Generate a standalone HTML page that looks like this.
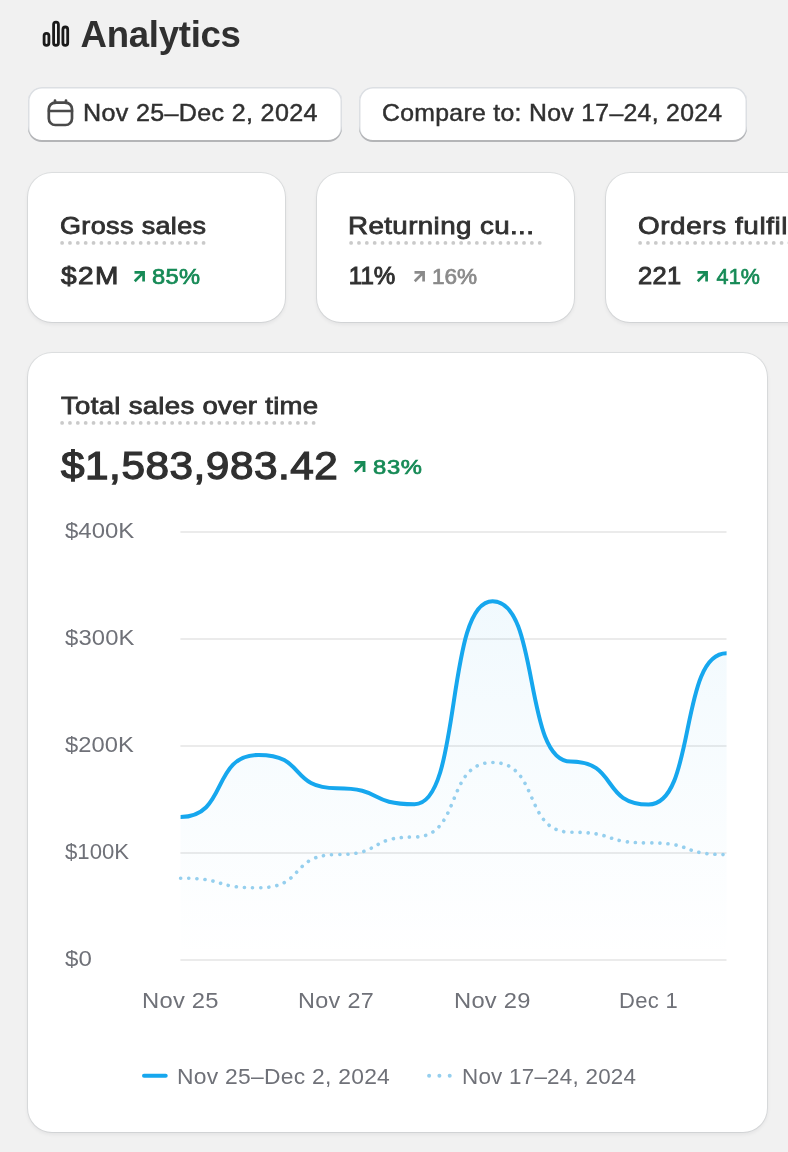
<!DOCTYPE html>
<html lang="en"><head><meta charset="utf-8"><title>Analytics</title><style>
html,body{margin:0;padding:0}
body{width:788px;height:1152px;background:#f1f1f1;overflow:hidden;position:relative;font-family:"Liberation Sans",sans-serif}
.abs{position:absolute;display:block;overflow:visible}
.grp{position:absolute;left:0;top:0;margin:0;padding:0}
.t{position:absolute;margin:0;padding:0;font-weight:normal;white-space:nowrap;line-height:1em;transform-origin:0 50%}
.btn{position:absolute;display:block;margin:0;padding:0;border:0;font:inherit;text-align:left;background:#fff;border-radius:14px;box-sizing:border-box;box-shadow:inset 0 -2px 0 #b4b5b7,inset 0 0 0 1.5px #dcdfe3}
.card{position:absolute;margin:0;padding:0;background:#fff;border-radius:24px;box-shadow:0 0 0 1px rgba(30,50,70,.09),0 2px 4px rgba(20,30,40,.08)}
</style></head>
<body>
<header class="grp">
<svg class="abs" style="left:40px;top:18px" width="32" height="32" viewBox="0 0 32 32" fill="none" stroke="#1a1a1a" stroke-width="2.8"><rect x="4.1" y="15.4" width="4.8" height="12" rx="2.4"/><rect x="13.6" y="4.2" width="4.8" height="23.2" rx="2.4"/><rect x="22.9" y="9" width="4.8" height="18.4" rx="2.4"/></svg>
<h1 class="t" id="h1" style="left:80.54px;top:16.80px;font-size:36.6px;font-weight:bold;color:#303030;letter-spacing:-0.280px;">Analytics</h1>
</header>
<nav class="grp">
<button type="button" class="btn" style="left:28.0px;top:86.5px;width:314.3px;height:55px">
<svg class="abs" style="left:18.0px;top:11.5px" width="30" height="30" viewBox="0 0 30 30" fill="none" stroke="#4a4a4a" stroke-width="2.7" stroke-linecap="round"><rect x="2.8" y="4.6" width="23.2" height="22.4" rx="6.5"/><path d="M3 13H26"/><path d="M9 2.6V5M20 2.6V5"/></svg>
<span class="t" id="b1" style="left:55.00px;top:15.30px;font-size:23.2px;color:#303030;letter-spacing:0.309px;transform:scaleX(1.0821);-webkit-text-stroke:0.45px #303030;">Nov 25–Dec 2, 2024</span>
</button>
<button type="button" class="btn" style="left:359.0px;top:86.5px;width:388.3px;height:55px">
<span class="t" id="b2" style="left:22.87px;top:15.30px;font-size:23.2px;color:#303030;letter-spacing:0.300px;transform:scaleX(1.0680);-webkit-text-stroke:0.45px #303030;">Compare to: Nov 17–24, 2024</span>
</button>
</nav>
<section class="grp">
<article class="card" style="left:27.6px;top:173.4px;width:257.5px;height:148.6px">
<h2 class="t" id="c1t" style="left:32.40px;top:40.70px;font-size:24px;color:#303030;letter-spacing:0.326px;transform:scaleX(1.1240);-webkit-text-stroke:0.8px #303030;">Gross sales</h2>
<svg class="abs" style="left:31.00px;top:66.60px" width="150.0" height="6" viewBox="0 0 150.0 6"><line x1="3.1" x2="148.6" y1="2.9" y2="2.9" stroke="#cacaca" stroke-width="3.8" stroke-linecap="round" stroke-dasharray="0.01 7.85"/></svg>
<p class="t" id="c1v" style="left:33.40px;top:90.70px;font-size:24.2px;color:#303030;letter-spacing:1.190px;transform:scaleX(1.1600);-webkit-text-stroke:0.9px #303030;">$2M</p>
<svg class="abs" style="left:106.00px;top:97.40px" width="11" height="11" viewBox="0 0 11 11"><path d="M0.5 1.35H9.6V10.5M9.3 1.65L0.75 10.2" fill="none" stroke="#168a56" stroke-width="2.7" stroke-linejoin="miter" stroke-linecap="butt"/></svg>
<span class="t" id="c1p" style="left:124.90px;top:93.75px;font-size:21.5px;color:#168a56;letter-spacing:0.273px;transform:scaleX(1.1016);-webkit-text-stroke:0.7px #168a56;">85%</span>
</article>
<article class="card" style="left:316.5px;top:173.4px;width:257.5px;height:148.6px">
<h2 class="t" id="c2t" style="left:31.50px;top:40.70px;font-size:24px;color:#303030;letter-spacing:0.346px;transform:scaleX(1.1550);-webkit-text-stroke:0.8px #303030;">Returning cu...</h2>
<svg class="abs" style="left:31.00px;top:66.60px" width="196.0" height="6" viewBox="0 0 196.0 6"><line x1="3.1" x2="194.6" y1="2.9" y2="2.9" stroke="#cacaca" stroke-width="3.8" stroke-linecap="round" stroke-dasharray="0.01 7.85"/></svg>
<p class="t" id="c2v" style="left:32.37px;top:90.70px;font-size:24.2px;color:#303030;letter-spacing:-0.123px;-webkit-text-stroke:0.9px #303030;">11%</p>
<svg class="abs" style="left:97.10px;top:97.40px" width="11" height="11" viewBox="0 0 11 11"><path d="M0.5 1.35H9.6V10.5M9.3 1.65L0.75 10.2" fill="none" stroke="#8a8a8a" stroke-width="2.7" stroke-linejoin="miter" stroke-linecap="butt"/></svg>
<span class="t" id="c2p" style="left:115.12px;top:93.75px;font-size:21.5px;color:#8a8a8a;letter-spacing:-0.075px;transform:scaleX(1.0508);-webkit-text-stroke:0.7px #8a8a8a;">16%</span>
</article>
<article class="card" style="left:605.5px;top:173.4px;width:257.5px;height:148.6px">
<h2 class="t" id="c3t" style="left:32.00px;top:40.70px;font-size:24px;color:#303030;letter-spacing:0.515px;transform:scaleX(1.1600);-webkit-text-stroke:0.8px #303030;">Orders fulfilled</h2>
<svg class="abs" style="left:31.00px;top:66.60px" width="196.0" height="6" viewBox="0 0 196.0 6"><line x1="3.1" x2="194.6" y1="2.9" y2="2.9" stroke="#cacaca" stroke-width="3.8" stroke-linecap="round" stroke-dasharray="0.01 7.85"/></svg>
<p class="t" id="c3v" style="left:32.50px;top:90.70px;font-size:24.2px;color:#303030;letter-spacing:0.300px;transform:scaleX(1.0551);-webkit-text-stroke:0.9px #303030;">221</p>
<svg class="abs" style="left:91.90px;top:97.40px" width="11" height="11" viewBox="0 0 11 11"><path d="M0.5 1.35H9.6V10.5M9.3 1.65L0.75 10.2" fill="none" stroke="#168a56" stroke-width="2.7" stroke-linejoin="miter" stroke-linecap="butt"/></svg>
<span class="t" id="c3p" style="left:110.97px;top:93.75px;font-size:21.5px;color:#168a56;letter-spacing:0.202px;-webkit-text-stroke:0.7px #168a56;">41%</span>
</article>
</section>
<section class="card" style="left:27.6px;top:353.4px;width:739.8px;height:778.2px">
<h2 class="t" id="mt" style="left:33.35px;top:40.70px;font-size:24px;color:#303030;letter-spacing:0.265px;transform:scaleX(1.1477);-webkit-text-stroke:0.8px #303030;">Total sales over time</h2>
<svg class="abs" style="left:31.00px;top:66.60px" width="261.0" height="6" viewBox="0 0 261.0 6"><line x1="3.1" x2="259.6" y1="2.9" y2="2.9" stroke="#cacaca" stroke-width="3.8" stroke-linecap="round" stroke-dasharray="0.01 7.85"/></svg>
<p class="t" id="mv" style="left:33.40px;top:93.65px;font-size:38.5px;color:#303030;letter-spacing:0.485px;transform:scaleX(1.0986);-webkit-text-stroke:1.25px #303030;">$1,583,983.42</p>
<svg class="abs" style="left:326.40px;top:107.20px" width="11.5" height="11.5" viewBox="0 0 11 11"><path d="M0.5 1.35H9.6V10.5M9.3 1.65L0.75 10.2" fill="none" stroke="#168a56" stroke-width="2.7" stroke-linejoin="miter" stroke-linecap="butt"/></svg>
<span class="t" id="mp" style="left:345.40px;top:103.25px;font-size:20.5px;color:#168a56;letter-spacing:0.595px;transform:scaleX(1.1600);-webkit-text-stroke:0.7px #168a56;">83%</span>
<figure class="grp">
<svg class="abs" style="left:-0.6px;top:-0.4px" width="741" height="779" viewBox="0 0 741 779"><defs><linearGradient id="ag" x1="0" y1="0" x2="0" y2="1"><stop offset="0" stop-color="#2aa8e8" stop-opacity="0.065"/><stop offset="1" stop-color="#2aa8e8" stop-opacity="0"/></linearGradient></defs><line x1="153.4" x2="699.5" y1="607.0" y2="607.0" stroke="#ebebeb" stroke-width="2"/><line x1="153.4" x2="699.5" y1="500.0" y2="500.0" stroke="#ebebeb" stroke-width="2"/><line x1="153.4" x2="699.5" y1="393.0" y2="393.0" stroke="#ebebeb" stroke-width="2"/><line x1="153.4" x2="699.5" y1="286.0" y2="286.0" stroke="#ebebeb" stroke-width="2"/><line x1="153.4" x2="699.5" y1="179.0" y2="179.0" stroke="#ebebeb" stroke-width="2"/><path d="M153.6 463.9C201.2 463.9 184.0 401.9 231.6 401.9C279.2 401.9 262.0 435.2 309.6 435.2C357.2 435.2 340.0 451.2 387.6 451.2C435.2 451.2 418.0 248.2 465.6 248.2C513.2 248.2 496.0 408.5 543.6 408.5C591.2 408.5 574.0 451.5 621.6 451.5C669.2 451.5 652.0 300.3 699.6 300.3L699.6 607.0L153.6 607.0Z" fill="url(#ag)"/><path d="M153.6 525.2C201.2 525.2 184.0 534.8 231.6 534.8C279.2 534.8 262.0 501.6 309.6 501.6C357.2 501.6 340.0 484.0 387.6 484.0C435.2 484.0 418.0 409.5 465.6 409.5C513.2 409.5 496.0 479.2 543.6 479.2C591.2 479.2 574.0 489.9 621.6 489.9C669.2 489.9 652.0 501.6 699.6 501.6" fill="none" stroke="#95cfee" stroke-width="3.6" stroke-linecap="round" stroke-dasharray="0.1 8"/><path d="M153.6 463.9C201.2 463.9 184.0 401.9 231.6 401.9C279.2 401.9 262.0 435.2 309.6 435.2C357.2 435.2 340.0 451.2 387.6 451.2C435.2 451.2 418.0 248.2 465.6 248.2C513.2 248.2 496.0 408.5 543.6 408.5C591.2 408.5 574.0 451.5 621.6 451.5C669.2 451.5 652.0 300.3 699.6 300.3" fill="none" stroke="#16a7ee" stroke-width="4" stroke-linecap="butt" stroke-linejoin="round"/><line x1="117.0" x2="138.7" y1="722.7" y2="722.7" stroke="#16a7ee" stroke-width="4" stroke-linecap="round"/><circle cx="402.1" cy="722.7" r="2" fill="#95cfee"/><circle cx="412.4" cy="722.7" r="2" fill="#95cfee"/><circle cx="422.7" cy="722.7" r="2" fill="#95cfee"/></svg>
<span class="t" id="y4" style="left:37.53px;top:167.00px;font-size:22px;color:#6f7178;letter-spacing:0.024px;transform:scaleX(1.0879);">$400K</span>
<span class="t" id="y3" style="left:37.55px;top:274.00px;font-size:22px;color:#6f7178;letter-spacing:0.113px;transform:scaleX(1.0832);">$300K</span>
<span class="t" id="y2" style="left:37.55px;top:381.00px;font-size:22px;color:#6f7178;letter-spacing:0.024px;transform:scaleX(1.0784);">$200K</span>
<span class="t" id="y1" style="left:37.59px;top:488.00px;font-size:22px;color:#6f7178;letter-spacing:0.017px;transform:scaleX(1.0070);">$100K</span>
<span class="t" id="y0" style="left:37.51px;top:595.00px;font-size:22px;color:#6f7178;letter-spacing:0.064px;transform:scaleX(1.0941);">$0</span>
<span class="t" id="x0" style="left:114.40px;top:636.60px;font-size:22px;color:#6f7178;letter-spacing:0.227px;transform:scaleX(1.0808);">Nov 25</span>
<span class="t" id="x2" style="left:270.40px;top:636.60px;font-size:22px;color:#6f7178;letter-spacing:0.308px;transform:scaleX(1.0630);">Nov 27</span>
<span class="t" id="x4" style="left:426.90px;top:636.60px;font-size:22px;color:#6f7178;letter-spacing:0.243px;transform:scaleX(1.0789);">Nov 29</span>
<span class="t" id="x6" style="left:591.40px;top:636.60px;font-size:22px;color:#6f7178;letter-spacing:0.294px;transform:scaleX(1.0004);">Dec 1</span>
<figcaption class="grp">
<span class="t" id="l1" style="left:149.40px;top:712.30px;font-size:22px;color:#6f7178;letter-spacing:0.253px;transform:scaleX(1.0388);">Nov 25–Dec 2, 2024</span>
<span class="t" id="l2" style="left:434.40px;top:712.30px;font-size:22px;color:#6f7178;letter-spacing:0.237px;transform:scaleX(1.0181);">Nov 17–24, 2024</span>
</figcaption>
</figure>
</section>
</body></html>
